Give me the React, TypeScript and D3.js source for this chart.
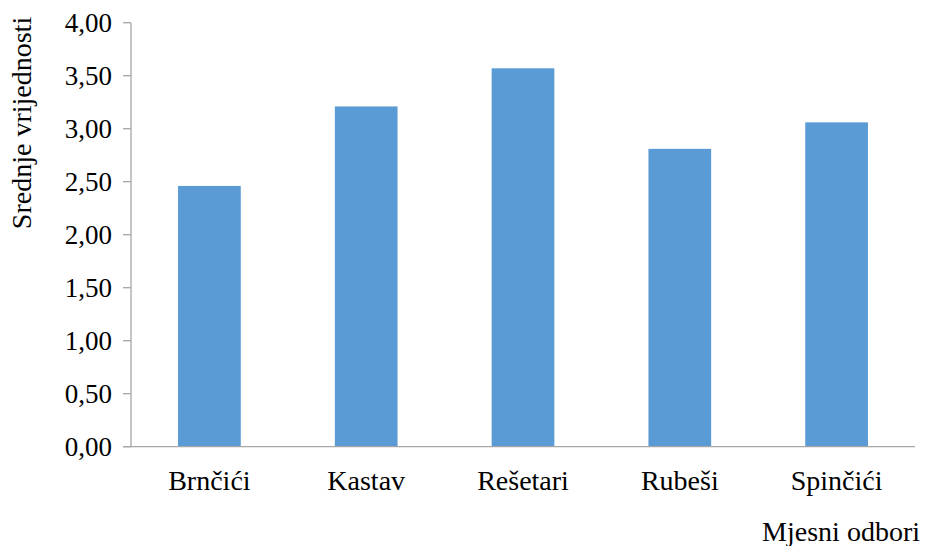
import React from "react";
import * as d3 from "d3";

const categories = ["Brnčići", "Kastav", "Rešetari", "Rubeši", "Spinčići"];
const values = [2.46, 3.21, 3.57, 2.81, 3.06];
const yTicks = [0, 0.5, 1, 1.5, 2, 2.5, 3, 3.5, 4];
const yTitle = "Srednje vrijednosti";
const xTitle = "Mjesni odbori";

const W = 925;
const H = 546;
const left = 131;
const right = 915;
const top = 22.7;
const bottom = 446.7;
const font = "'Liberation Serif', 'Times New Roman', serif";

export default function App() {
  const x = d3.scaleBand<string>().domain(categories).range([left, right]).paddingInner(0.6).paddingOuter(0.3);
  const y = d3.scaleLinear().domain([0, 4]).range([bottom, top]);
  const fmt = (v: number) => v.toFixed(2).replace(".", ",");
  return (
    <svg width={W} height={H} style={{ position: "absolute", left: 0, top: 0, background: "#fff" }} fontFamily={font}>
      {categories.map((c, i) => (
        <rect key={c} x={x(c)} y={y(values[i])} width={x.bandwidth()} height={y(0) - y(values[i])} fill="#5B9BD5" />
      ))}
      <line x1={left} x2={left} y1={top} y2={bottom} stroke="#A6A6A6" strokeWidth={1.3} />
      <line x1={left - 8} x2={right} y1={bottom} y2={bottom} stroke="#A6A6A6" strokeWidth={1.3} />
      {yTicks.map((t) => (
        <g key={t}>
          <line x1={left - 8} x2={left} y1={y(t)} y2={y(t)} stroke="#A6A6A6" strokeWidth={1.3} />
          <text x={112} y={y(t)} dy="0.35em" textAnchor="end" fontSize={27} fill="#000">
            {fmt(t)}
          </text>
        </g>
      ))}
      {categories.map((c) => (
        <text key={c} x={(x(c) as number) + x.bandwidth() / 2} y={490} textAnchor="middle" fontSize={28} fill="#000">
          {c}
        </text>
      ))}
      <text transform={`translate(31,123) rotate(-90)`} textAnchor="middle" fontSize={28} fill="#000">
        {yTitle}
      </text>
      <text x={920} y={541} textAnchor="end" fontSize={28} fill="#000">
        {xTitle}
      </text>
    </svg>
  );
}
